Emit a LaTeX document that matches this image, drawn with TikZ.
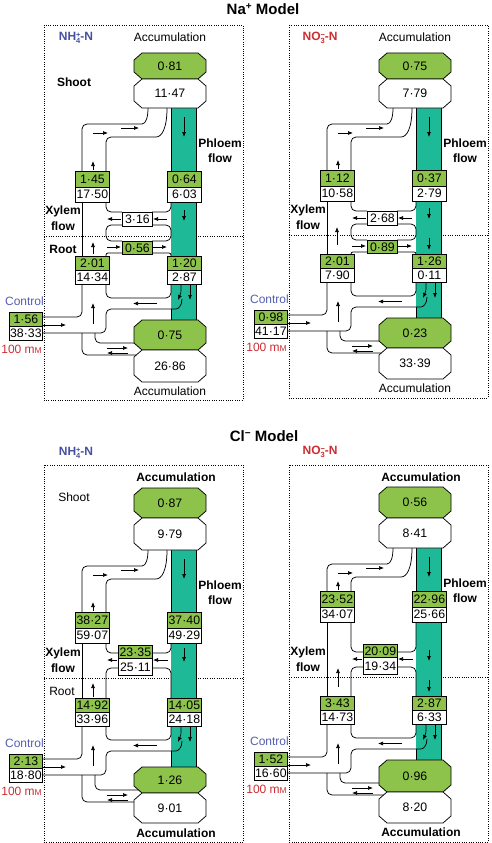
\documentclass[tikz,border=0pt]{standalone}
\usepackage{fontspec}
\setmainfont{Liberation Sans}
\usetikzlibrary{arrows.meta}
\definecolor{lgreen}{RGB}{141,195,75}
\definecolor{tealc}{RGB}{30,185,150}
\definecolor{nblue}{RGB}{70,80,160}
\definecolor{cblue}{RGB}{85,95,175}
\definecolor{nred}{RGB}{205,45,50}
\tikzset{
 ln/.style={line width=0.75pt, rounded corners=5pt},
 arr/.style={line width=0.7pt, -{Latex[length=5pt,width=4pt]}},
 numf/.style={font=\fontsize{12.3}{13}\selectfont, inner sep=0pt},
 gbox/.style={draw, line width=0.75pt, fill=lgreen, minimum width=34pt, minimum height=15.5pt, inner sep=0pt, anchor=north west, font=\fontsize{12.3}{13}\selectfont},
 wbox/.style={gbox, fill=white},
 lab/.style={font=\fontsize{12}{13}\selectfont, inner sep=0pt},
 blab/.style={font=\bfseries\fontsize{12}{13}\selectfont, inner sep=0pt},
 border/.style={line width=0.8pt, dash pattern=on 0.9pt off 1.4pt},
}
\newcommand\octa[5]{%
 \path[draw, line width=0.75pt, fill=#4] (142,#2) -- (198,#2) -- (206,#2+7) -- (206,#2+#3-7) -- (198,#2+#3) -- (142,#2+#3) -- (134,#2+#3-7) -- (134,#2+7) -- cycle;
 \node[numf] (#1) at (170,#2+#3/2) {#5};}
\newcommand\smallsup[1]{{\fontsize{7.5}{8}\selectfont #1}}
\newcommand\NHlab{\textbf{NH\rlap{\raisebox{3.8pt}{\smallsup{+}}}\raisebox{-2.4pt}{\smallsup{4}}-N}}
\newcommand\NOlab{\textbf{NO\rlap{\raisebox{3.8pt}{\smallsup{−}}}\raisebox{-2.4pt}{\smallsup{3}}-N}}
\newcommand\drawpanel{%
\pgfmathsetmacro\yO{\yT+\hG+\hW}%
\pgfmathsetmacro\yLb{\yL+\hGl+\hWl}%
\begin{scope}[shift={(\xo,0)}]
\draw[border] (44,\yPT) rectangle (243,\yPB);
\draw[border] (44,\yD) -- (243,\yD);
\fill[tealc] (171,\yO) rectangle (196,\yL);
\draw[ln] (196,\yO) -- (196,\yL);
\draw[ln] (171,\yO) -- (171,\yB);
\draw[ln] (171,\yC+53) -- (171,\yL);
% shoot channel
\draw[ln] (82,\yB) -- (82,\yO+16) -- (137,\yO+16) .. controls (146,\yO+16) and (148,\yO+9) .. (148,\yO);
\draw[ln] (106,\yB) -- (106,\yO+29) -- (151,\yO+29) .. controls (162,\yO+29) and (167,\yO+20) .. (167,\yO);
\draw[ln] (82,\yB+31) -- (82,\yC);
\ifnum\chtype=1
 \draw[ln] (106,\yB+31) -- (106,\yD-24) -- (122,\yD-24);
 \draw[ln] (152,\yD-24) -- (171,\yD-24) -- (171,\yB+31);
 \draw[ln] (122,\yD-11) -- (106,\yD-11) -- (106,\yD+5) -- (122,\yD+5);
 \draw[ln] (152,\yD-11) -- (171,\yD-11) -- (171,\yD+5) -- (152,\yD+5);
 \draw[ln,rounded corners=2pt] (122,\yD+17) -- (106,\yD+17) -- (106,\yC);
 \draw[ln,rounded corners=2pt] (152,\yD+17) -- (171,\yD+17) -- (171,\yC);
 \node[wbox, minimum width=30pt, minimum height=14pt] (\pp c1) at (122,\yD-24) {\nCa};
 \node[gbox, minimum width=30pt, minimum height=13pt] (\pp c2) at (122,\yD+5) {\nCb};
 \draw[arr] (121,\yD-17) -- (107,\yD-17);
 \draw[arr] (167,\yD-17) -- (153,\yD-17);
 \draw[arr] (107,\yD+11) -- (121,\yD+11);
 \draw[arr] (153,\yD+11) -- (167,\yD+11);
\else
 \draw[ln] (106,\yB+31) -- (106,\yD-25) -- (118,\yD-25);
 \draw[ln] (152,\yD-25) -- (171,\yD-25) -- (171,\yB+31);
 \draw[ln] (118,\yD-10) -- (106,\yD-10) -- (106,\yC);
 \draw[ln] (152,\yD-10) -- (171,\yD-10) -- (171,\yC);
 \node[gbox, minimum height=13pt] (\pp c1) at (118,\yD-33) {\nCa};
 \node[wbox, minimum height=17pt] (\pp c2) at (118,\yD-20) {\nCb};
 \draw[arr] (117,\yD-18) -- (107,\yD-18);
 \draw[arr] (168,\yD-18) -- (153,\yD-18);
\fi
% lower part
\draw[ln] (82,\yC+28) -- (82,\yC+61) -- (42,\yC+61);
\draw[ln] (106,\yC+28) -- (106,\yC+42) -- (171,\yC+42) -- (171,\yC+28);
\draw[ln] (42,\yC+77) -- (106,\yC+77) -- (106,\yC+53) -- (171,\yC+53) .. controls (178,\yC+53) and (182,\yC+50) .. (182,\yC+43);
\draw[ln] (82,\yC+77) -- (82,\yL+35) -- (142,\yL+35);
\draw[ln] (95,\yC+77) -- (95,\yL+23) -- (142,\yL+23);
% octagons
\octa{\pp o1}{\yT}{\hG}{lgreen}{\nA}
\octa{\pp o2}{\yT+\hG}{\hW}{white}{\nB}
\octa{\pp o3}{\yL}{\hGl}{lgreen}{\nLa}
\octa{\pp o4}{\yL+\hGl}{\hWl}{white}{\nLb}
% boxes
\node[gbox] (\pp xa) at (75,\yB) {\nXa};
\node[wbox] (\pp xb) at (75,\yB+15.5) {\nXb};
\node[gbox] (\pp pa) at (167,\yB) {\nPa};
\node[wbox] (\pp pb) at (167,\yB+15.5) {\nPb};
\node[gbox, minimum height=14pt] (\pp ra) at (75,\yC) {\nRa};
\node[wbox, minimum height=14pt] (\pp rb) at (75,\yC+14) {\nRb};
\node[gbox, minimum height=14pt] (\pp qa) at (167,\yC) {\nQa};
\node[wbox, minimum height=14pt] (\pp qb) at (167,\yC+14) {\nQb};
\node[gbox, minimum width=33pt, minimum height=14pt] (\pp ia) at (9,\yC+56) {\nIa};
\node[wbox, minimum width=33pt, minimum height=14pt] (\pp ib) at (9,\yC+70) {\nIb};
% arrows
\draw[arr] (93,\yO+25) -- (108,\yO+25);
\draw[arr] (121,\yO+20) -- (139,\yO+20);
\draw[arr] (93,\yB-1) -- (93,\yB-10);
\draw[arr] (184,\yO+9) -- (184,\yO+29);
\draw[arr] (157,\yC+47.5) -- (133,\yC+47.5);
\draw[arr] (93,\yC+68) -- (93,\yC+47);
\draw[arr] (43,\yC+69) -- (66,\yC+69);
\draw[arr] (107,\yL+28) -- (128,\yL+28);
\draw[arr] (128,\yL+33) -- (107,\yL+33);
\draw[arr] (190,\yC+29) -- (190,\yC+44);
\draw[arr] (181,\yC+29) .. controls (181,\yC+37) .. (178,\yC+44);
% labels
\node[blab] (\pp phl1) at (220,\yO+35) {Phloem};
\node[blab] (\pp phl2) at (220,\yO+50) {flow};
\node[blab] (\pp xy1) at (63,\yD-25) {Xylem};
\node[blab] (\pp xy2) at (63,\yD-10) {flow};
\node[lab, text=cblue, anchor=east] (\pp ctl) at (44,\yC+45) {Control};
\node[lab, text=nred, anchor=east] (\pp mm) at (42,\yC+93) {100 m{\fontsize{8.5}{9}\selectfont M}};
\extra
\end{scope}}
\begin{document}
\begin{tikzpicture}[x=1pt,y=-1pt]
\useasboundingbox (0,0) rectangle (491,843);
\fill[white] (0,0) rectangle (491,843);
\node[font=\bfseries\fontsize{15}{16}\selectfont, inner sep=0pt] (t1) at (263,9) {Na\raisebox{5pt}{\fontsize{10}{10}\selectfont +} Model};
\node[font=\bfseries\fontsize{15}{16}\selectfont, inner sep=0pt] (t2) at (264,436) {Cl\raisebox{5pt}{\fontsize{10}{10}\selectfont −} Model};
% ---------- top left
\def\pp{tl-}\def\xo{0}\def\yT{53}\def\hG{26}\def\hW{29}\def\yB{171}\def\yD{236}\def\yC{256}\def\yL{320}\def\hGl{30}\def\hWl{32}\def\yPT{25}\def\yPB{400}\def\chtype{1}
\def\nA{0·81}\def\nB{11·47}\def\nXa{1·45}\def\nXb{17·50}\def\nPa{0·64}\def\nPb{6·03}\def\nCa{3·16}\def\nCb{0·56}
\def\nRa{2·01}\def\nRb{14·34}\def\nQa{1·20}\def\nQb{2·87}\def\nIa{1·56}\def\nIb{38·33}\def\nLa{0·75}\def\nLb{26·86}
\def\extra{%
 \node[lab, text=nblue] (\pp nl) at (76,38) {\NHlab};
 \node[lab] (\pp acc1) at (170,37) {Accumulation};
 \node[lab] (\pp acc2) at (170,\yLb+9) {Accumulation};
 \node[blab] (\pp sh) at (74,82) {Shoot};
 \node[blab] (\pp rt) at (63,249) {Root};
 \draw[arr] (184,\yB+39) -- (184,\yB+50);
 \draw[arr] (93,\yC-2) -- (93,\yC-14);}
\drawpanel
% ---------- top right
\def\pp{tr-}\def\xo{245}\def\yT{53}\def\hG{26}\def\hW{29}\def\yB{170}\def\yD{235}\def\yC{254}\def\yL{318}\def\hGl{30}\def\hWl{31}\def\yPT{25}\def\yPB{398}\def\chtype{1}
\def\nA{0·75}\def\nB{7·79}\def\nXa{1·12}\def\nXb{10·58}\def\nPa{0·37}\def\nPb{2·79}\def\nCa{2·68}\def\nCb{0·89}
\def\nRa{2·01}\def\nRb{7·90}\def\nQa{1·26}\def\nQb{0·11}\def\nIa{0·98}\def\nIb{41·17}\def\nLa{0·23}\def\nLb{33·39}
\def\extra{%
 \node[lab, text=nred] (\pp nl) at (75,38) {\NOlab};
 \node[lab] (\pp acc1) at (170,37) {Accumulation};
 \node[lab] (\pp acc2) at (170,\yLb+9) {Accumulation};
 \draw[arr] (184,\yB+38) -- (184,\yB+49);
 \draw[arr] (184,\yD+3) -- (184,\yD+15);
 \draw[arr] (92,\yD+10) -- (92,\yD-8);}
\drawpanel
% ---------- bottom left
\def\pp{bl-}\def\xo{0}\def\yT{488}\def\hG{30}\def\hW{32}\def\yB{612}\def\yD{678}\def\yC{698}\def\yL{767}\def\hGl{26}\def\hWl{30}\def\yPT{465}\def\yPB{842}\def\chtype{2}
\def\nA{0·87}\def\nB{9·79}\def\nXa{38·27}\def\nXb{59·07}\def\nPa{37·40}\def\nPb{49·29}\def\nCa{23·35}\def\nCb{25·11}
\def\nRa{14·92}\def\nRb{33·96}\def\nQa{14·05}\def\nQb{24·18}\def\nIa{2·13}\def\nIb{18·80}\def\nLa{1·26}\def\nLb{9·01}
\def\extra{%
 \node[lab, text=nblue] (\pp nl) at (76,453) {\NHlab};
 \node[blab] (\pp acc1) at (176,477) {Accumulation};
 \node[blab] (\pp acc2) at (176,\yLb+10) {Accumulation};
 \node[lab] (\pp sh) at (74,497) {Shoot};
 \node[lab] (\pp rt) at (62,691) {Root};
 \draw[arr] (184,648) -- (184,662);
 \draw[arr] (93,\yC-1) -- (93,\yC-15);}
\drawpanel
% ---------- bottom right
\def\pp{br-}\def\xo{245}\def\yT{487}\def\hG{31}\def\hW{30}\def\yB{591}\def\yD{677}\def\yC{696}\def\yL{760}\def\hGl{32}\def\hWl{31}\def\yPT{465}\def\yPB{842}\def\chtype{2}
\def\nA{0·56}\def\nB{8·41}\def\nXa{23·52}\def\nXb{34·07}\def\nPa{22·96}\def\nPb{25·66}\def\nCa{20·09}\def\nCb{19·34}
\def\nRa{3·43}\def\nRb{14·73}\def\nQa{2·87}\def\nQb{6·33}\def\nIa{1·52}\def\nIb{16·60}\def\nLa{0·96}\def\nLb{8·20}
\def\extra{%
 \node[lab, text=nred] (\pp nl) at (75,452) {\NOlab};
 \node[blab] (\pp acc1) at (176,477) {Accumulation};
 \node[blab] (\pp acc2) at (176,\yLb+9) {Accumulation};
 \draw[arr] (184,650) -- (184,661);
 \draw[arr] (184,680) -- (184,692);
 \draw[arr] (93,\yC-9) -- (93,\yC-28);}
\drawpanel
\end{tikzpicture}
\end{document}
